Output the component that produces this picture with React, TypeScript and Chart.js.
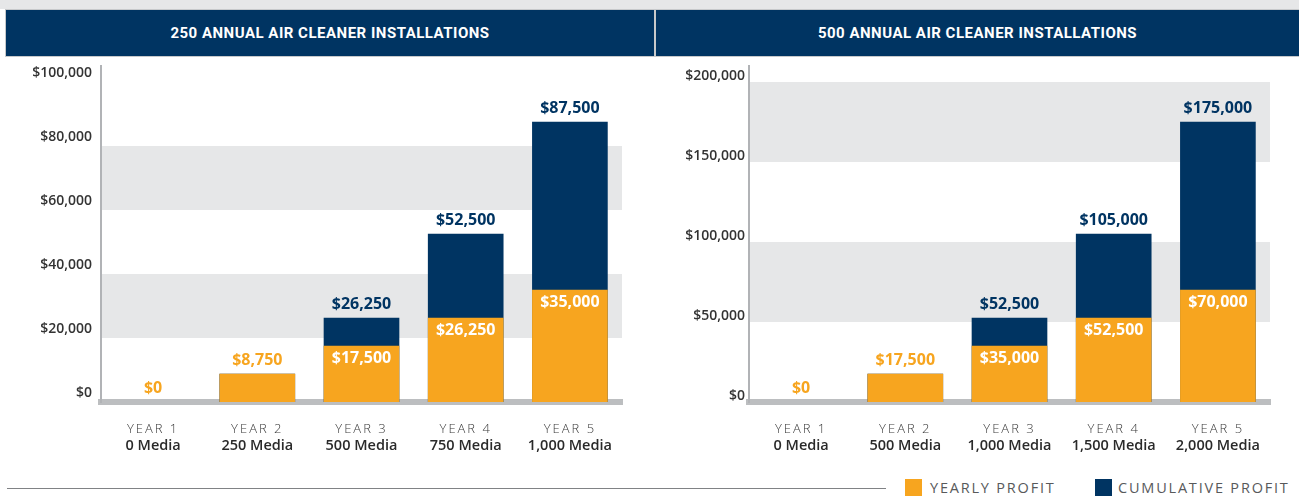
import React, { useEffect, useRef } from "react";
import { Chart, registerables } from "chart.js";
Chart.register(...registerables);

// ---------- data ----------
const yearLabels = ["YEAR 1", "YEAR 2", "YEAR 3", "YEAR 4", "YEAR 5"];
const mediaLeft = ["0 Media", "250 Media", "500 Media", "750 Media", "1,000 Media"];
const mediaRight = ["0 Media", "500 Media", "1,000 Media", "1,500 Media", "2,000 Media"];
const yearlyLeft = [0, 8750, 17500, 26250, 35000];
const cumulativeLeft = [0, 8750, 26250, 52500, 87500];
const yearlyRight = [0, 17500, 35000, 52500, 70000];
const cumulativeRight = [0, 17500, 52500, 105000, 175000];
const ticksLeft = [0, 20000, 40000, 60000, 80000, 100000];
const ticksRight = [0, 50000, 100000, 150000, 200000];
const bandsLeft = [[20000, 40000], [60000, 80000]];
const bandsRight = [[50000, 100000], [150000, 200000]];
const titleLeft = "250 ANNUAL AIR CLEANER INSTALLATIONS";
const titleRight = "500 ANNUAL AIR CLEANER INSTALLATIONS";
const legendLabels = ["YEARLY PROFIT", "CUMULATIVE PROFIT"];

// ---------- styles ----------
const NAVY = "#003462";
const ORANGE = "#f7a51f";
const BAND = "#e6e7e8";
const AXIS = "#bcbec0";
const TEXT = "#333333";
const FONT = '"Open Sans", "Noto Sans", sans-serif';

const fmt = (v: number) => "$" + Number(v).toLocaleString("en-US");

type PanelProps = {
  yearly: number[];
  cumulative: number[];
  media: string[];
  ticks: number[];
  max: number;
  bands: number[][];
  left: number;
  width: number;
  axisWidth: number;
  padRight: number;
  tickPad: number;
  labelOffset: number;
};

function Panel(p: PanelProps) {
  const ref = useRef<HTMLCanvasElement | null>(null);
  useEffect(() => {
    if (!ref.current) return;
    const bandsPlugin = {
      id: "bands",
      beforeDraw(chart: any) {
        const { ctx, chartArea, scales } = chart;
        const y = scales.y;
        ctx.save();
        ctx.fillStyle = BAND;
        for (const [a, b] of p.bands) {
          const y1 = y.getPixelForValue(b);
          const y2 = y.getPixelForValue(a);
          ctx.fillRect(chartArea.left, y1, chartArea.right - chartArea.left, y2 - y1);
        }
        ctx.restore();
        const xs = scales.x;
        if (xs && !xs._lsPatched) {
          const orig = xs.drawLabels.bind(xs);
          xs.drawLabels = (area: any) => {
            ctx.save();
            (ctx as any).letterSpacing = "2px";
            orig(area);
            ctx.restore();
          };
          xs._lsPatched = true;
        }
      },
    };
    const labelsPlugin = {
      id: "barLabels",
      afterDatasetsDraw(chart: any) {
        const { ctx } = chart;
        const ym = chart.getDatasetMeta(0);
        const cm = chart.getDatasetMeta(1);
        ctx.save();
        ctx.font = `700 16px ${FONT}`;
        ctx.textAlign = "center";
        ctx.textBaseline = "middle";
        p.yearly.forEach((yv, i) => {
          const cv = p.cumulative[i];
          const yb = ym.data[i];
          const cb = cm.data[i];
          if (cv > yv) {
            ctx.fillStyle = NAVY;
            ctx.fillText(fmt(cv), cb.x, cb.y - 14);
            ctx.fillStyle = "#ffffff";
            ctx.fillText(fmt(yv), yb.x, yb.y + 12);
          } else {
            ctx.fillStyle = ORANGE;
            ctx.fillText(fmt(yv), yb.x, yb.y - 14);
          }
        });
        ctx.restore();
      },
    };
    const colorFor = (c: string) => (ctx: any) => (ctx.raw === 0 ? "rgba(0,0,0,0)" : c);
    const chart = new Chart(ref.current, {
      type: "bar",
      data: {
        labels: yearLabels,
        datasets: [
          {
            label: legendLabels[0],
            data: p.yearly,
            backgroundColor: colorFor(ORANGE),
            barThickness: 75,
          },
          {
            label: legendLabels[1],
            data: p.cumulative,
            backgroundColor: colorFor(NAVY),
            barThickness: 75,
          },
        ],
      },
      options: {
        responsive: false,
        animation: false,
        layout: { padding: { top: 6, right: p.padRight, left: 0, bottom: 0 } },
        plugins: {
          legend: { display: false },
          tooltip: { enabled: false },
        },
        scales: {
          x: {
            stacked: true,
            weight: 0,
            grid: { display: false, drawTicks: false },
            border: { display: true, color: AXIS, width: 6 },
            ticks: {
              font: { family: FONT, size: 13, weight: 300 },
              color: "#3a3a3a",
              padding: 19,
              maxRotation: 0,
              autoSkip: false,
            },
            afterFit: (s: any) => {
              s.height = 34;
              s.paddingLeft = 0;
              s.paddingRight = 0;
            },
          },
          x2: {
            type: "category",
            labels: p.media,
            position: "bottom",
            weight: 1,
            grid: { display: false, drawTicks: false },
            border: { display: false },
            ticks: {
              font: { family: FONT, size: 14.5, weight: 600 },
              color: "#2a2a2a",
              padding: 1,
              maxRotation: 0,
              autoSkip: false,
            },
            afterFit: (s: any) => {
              s.height = 24;
              s.paddingLeft = 0;
              s.paddingRight = 0;
            },
          },
          y: {
            stacked: false,
            min: 0,
            max: p.max,
            grid: { display: false, drawTicks: false },
            border: { display: true, color: "#b1b3b6", width: 2 },
            ticks: {
              autoSkip: false,
              padding: p.tickPad,
              labelOffset: p.labelOffset,
              color: TEXT,
              font: { family: FONT, size: 14, weight: 600 },
              callback: (v: any) => fmt(v),
            },
            afterBuildTicks: (s: any) => {
              s.ticks = p.ticks.map((v) => ({ value: v }));
            },
            afterFit: (s: any) => {
              s.width = p.axisWidth;
              s.paddingTop = 0;
              s.paddingBottom = 0;
            },
          },
        },
      } as any,
      plugins: [bandsPlugin, labelsPlugin],
    });
    return () => chart.destroy();
  }, []);
  return (
    <canvas
      ref={ref}
      width={p.width}
      height={400}
      style={{ position: "absolute", left: p.left, top: 60, width: p.width, height: 400 }}
    />
  );
}

export default function App() {
  const headerText: React.CSSProperties = {
    position: "absolute",
    top: 10,
    height: 46,
    background: NAVY,
    color: "#ffffff",
    fontFamily: 'Roboto, "Open Sans", sans-serif',
    fontWeight: 700,
    fontSize: 15,
    letterSpacing: "0.5px",
    display: "flex",
    alignItems: "center",
    justifyContent: "center",
  };
  const legendText: React.CSSProperties = {
    position: "absolute",
    top: 478,
    height: 20,
    lineHeight: "20px",
    fontFamily: FONT,
    fontSize: 14.5,
    fontWeight: 400,
    letterSpacing: "1.8px",
    color: "#58595b",
    whiteSpace: "nowrap",
  };
  return (
    <div
      style={{
        position: "absolute",
        left: 0,
        top: 0,
        width: 1299,
        height: 496,
        background: "#ffffff",
        overflow: "hidden",
      }}
    >
      <div style={{ position: "absolute", left: 0, top: 0, width: 1299, height: 9, background: BAND }} />
      <div style={{ position: "absolute", left: 5, top: 9, width: 1294, height: 48, background: "#c7c9cb" }} />
      <div style={{ ...headerText, left: 6, width: 648 }}>{titleLeft}</div>
      <div style={{ ...headerText, left: 656, width: 643 }}>{titleRight}</div>

      <Panel
        yearly={yearlyLeft}
        cumulative={cumulativeLeft}
        media={mediaLeft}
        ticks={ticksLeft}
        max={105000}
        bands={bandsLeft}
        left={0}
        width={650}
        axisWidth={101}
        padRight={28}
        tickPad={9}
        labelOffset={-9}
      />
      <Panel
        yearly={yearlyRight}
        cumulative={cumulativeRight}
        media={mediaRight}
        ticks={ticksRight}
        max={210000}
        bands={bandsRight}
        left={650}
        width={649}
        axisWidth={99}
        padRight={29}
        tickPad={4}
        labelOffset={-6}
      />

      <div style={{ position: "absolute", left: 7, top: 488, width: 879, height: 1, background: "#808285" }} />
      <div style={{ position: "absolute", left: 905, top: 479, width: 17, height: 17, background: ORANGE }} />
      <div style={{ ...legendText, left: 930 }}>{legendLabels[0]}</div>
      <div style={{ position: "absolute", left: 1095, top: 479, width: 17, height: 17, background: NAVY }} />
      <div style={{ ...legendText, left: 1118 }}>{legendLabels[1]}</div>
    </div>
  );
}
